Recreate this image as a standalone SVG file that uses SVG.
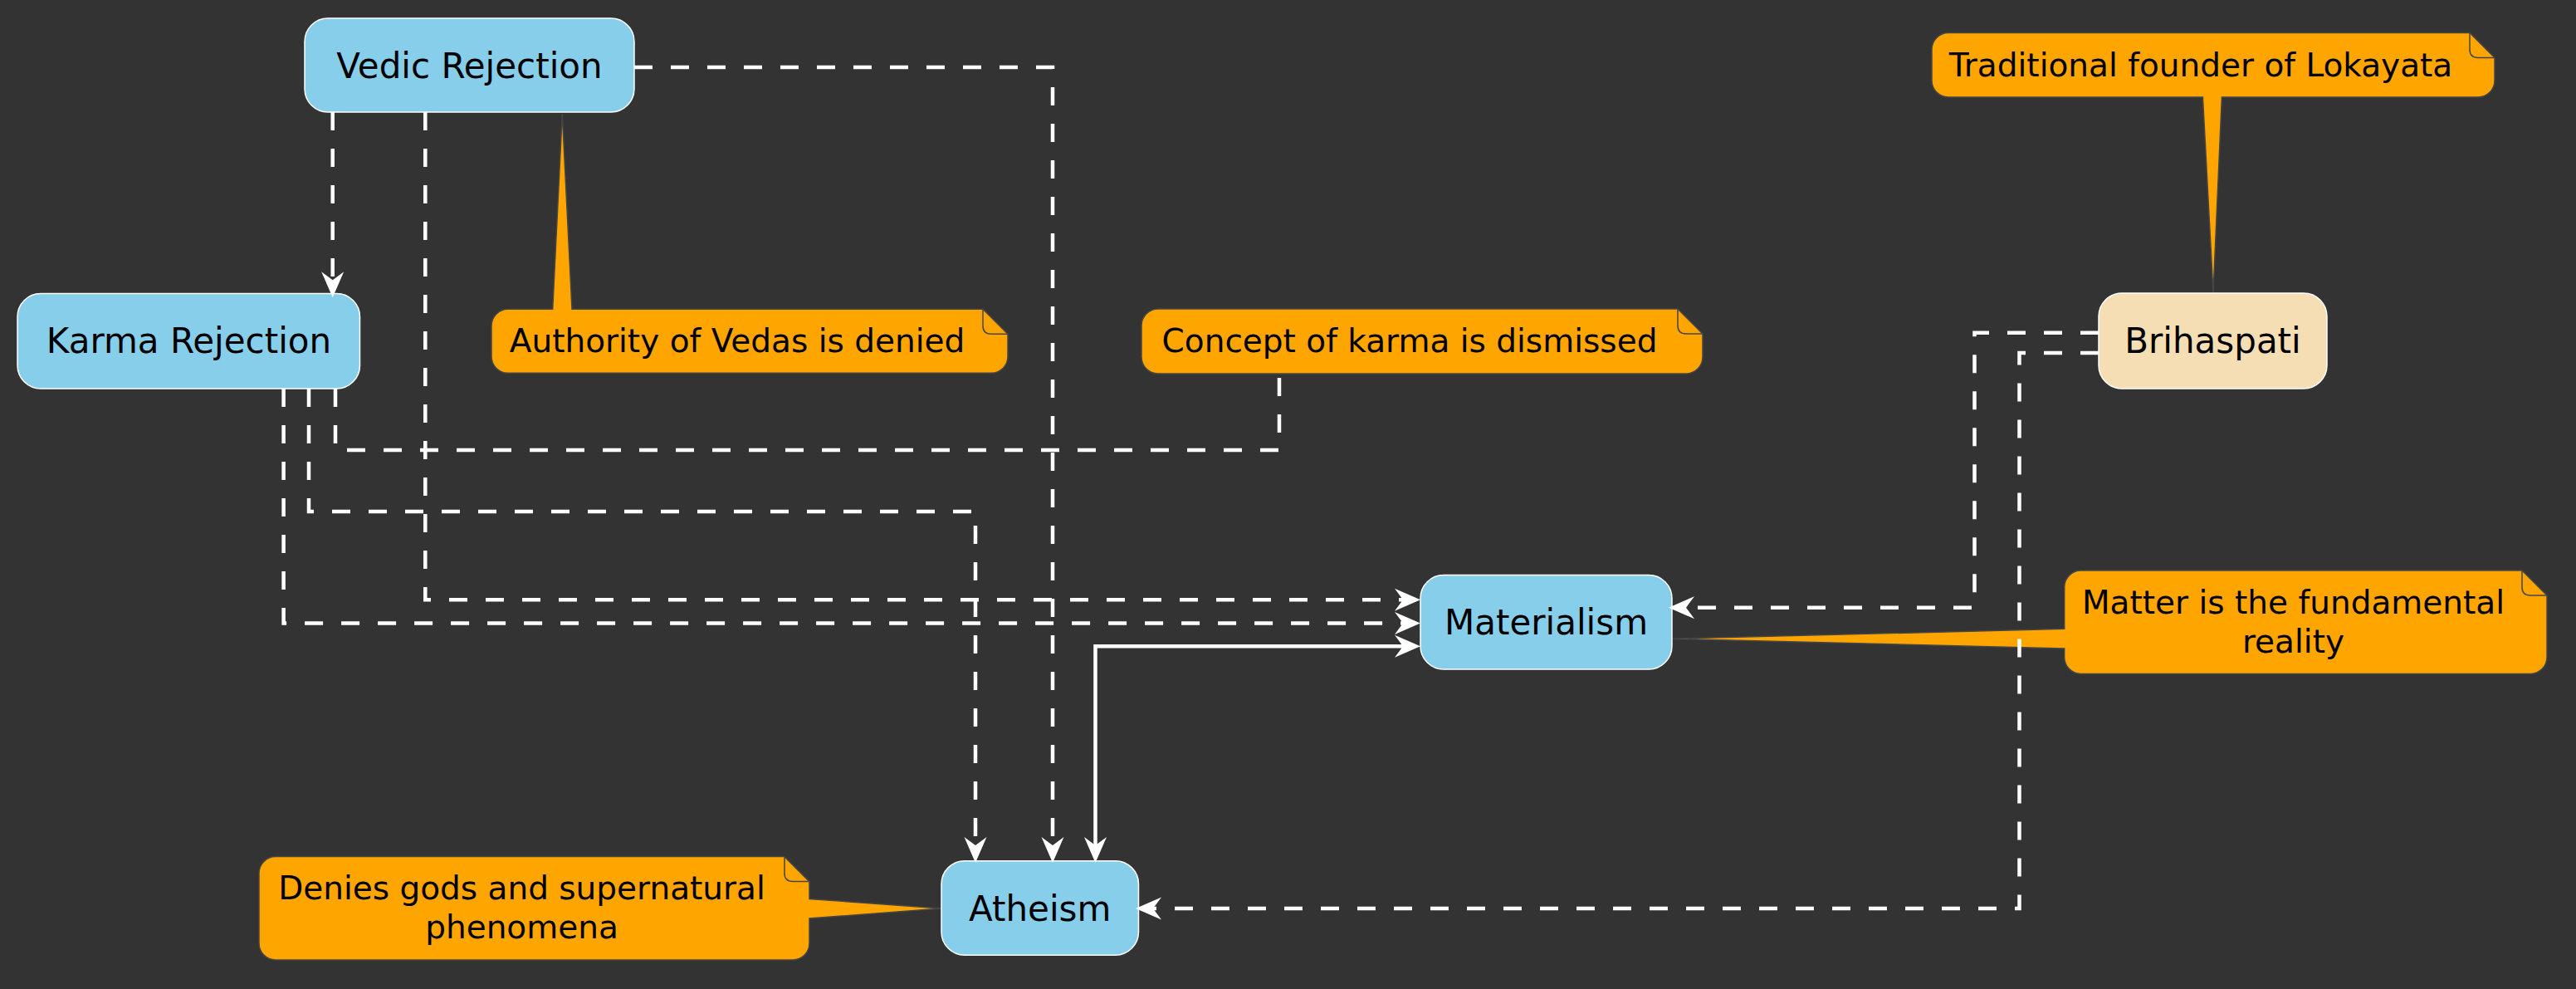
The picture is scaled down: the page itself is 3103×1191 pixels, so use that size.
<svg xmlns="http://www.w3.org/2000/svg" width="3103" height="1191" viewBox="0 0 3103 1191">
<style>
.node{fill:#87CEEB;stroke:#FFFFFF;stroke-width:1.5}
.wheat{fill:#F5DEB3}
.ntext{font-family:"DejaVu Sans",Verdana,sans-serif;font-size:42px;fill:#000000;text-anchor:middle}
.note{fill:#FFA500;stroke:#454545;stroke-width:1.5}
.fold{fill:none;stroke:#454545;stroke-width:1.5}
.ttext{font-family:"DejaVu Sans",Verdana,sans-serif;font-size:39px;fill:#000000;text-anchor:middle}
.dash{fill:none;stroke:#FFFFFF;stroke-width:4.5;stroke-dasharray:22 22}
.solid{fill:none;stroke:#FFFFFF;stroke-width:4.5}
</style>
<defs>
<marker id="arr" viewBox="-33 -15 35 30" markerWidth="35" markerHeight="30" refX="-12" refY="0" orient="auto-start-reverse" markerUnits="userSpaceOnUse">
<path d="M0,0 L-31,-13.5 L-21,0 L-31,13.5 Z" fill="#FFFFFF"/>
</marker>
</defs>
<rect width="3103" height="1191" fill="#333333"/>

<g id="notes">
<g id="note-authority">
<path class="note" d="M612,372.3 H665.7 L677.3,137 L689,372.3 H1184 L1214,402.3 V429.3 A20,20 0 0 1 1194,449.3 H612 A20,20 0 0 1 592,429.3 V392.3 A20,20 0 0 1 612,372.3 Z"/>
<path class="fold" d="M1184,372.3 V392.3 Q1184,402.3 1194,402.3 H1214"/>
<text class="ttext" x="888" y="423.5">Authority of Vedas is denied</text>
</g>
<g id="note-concept">
<path class="note" d="M1395,372 H2021 L2051,402 V430 A20,20 0 0 1 2031,450 H1395 A20,20 0 0 1 1375,430 V392 A20,20 0 0 1 1395,372 Z"/>
<path class="fold" d="M2021,372 V392 Q2021,402 2031,402 H2051"/>
<text class="ttext" x="1698" y="423.5">Concept of karma is dismissed</text>
</g>
<g id="note-traditional">
<path class="note" d="M2347,39.5 H2975 L3005,69.5 V97 A20,20 0 0 1 2985,117 H2676.4 L2666,353 L2653.4,117 H2347 A20,20 0 0 1 2327,97 V59.5 A20,20 0 0 1 2347,39.5 Z"/>
<path class="fold" d="M2975,39.5 V59.5 Q2975,69.5 2985,69.5 H3005"/>
<text class="ttext" x="2651" y="91.5">Traditional founder of Lokayata</text>
</g>
<g id="note-matter">
<path class="note" d="M2506.7,687 H3038 L3068,717 V791.5 A20,20 0 0 1 3048,811.5 H2506.7 A20,20 0 0 1 2486.7,791.5 V781 L2014,769.3 L2486.7,757.3 V707 A20,20 0 0 1 2506.7,687 Z"/>
<path class="fold" d="M3038,687 V707 Q3038,717 3048,717 H3068"/>
<text class="ttext" x="2762.5" y="739">Matter is the fundamental</text>
<text class="ttext" x="2762.5" y="785.5">reality</text>
</g>
<g id="note-denies">
<path class="note" d="M332,1031.6 H945 L975,1061.6 V1082.5 L1134,1094 L975,1106 V1136 A20,20 0 0 1 955,1156 H332 A20,20 0 0 1 312,1136 V1051.6 A20,20 0 0 1 332,1031.6 Z"/>
<path class="fold" d="M945,1031.6 V1051.6 Q945,1061.6 955,1061.6 H975"/>
<text class="ttext" x="628.5" y="1083">Denies gods and supernatural</text>
<text class="ttext" x="628.5" y="1129.5">phenomena</text>
</g>
</g>

<g id="vedic-rejection">
<rect class="node" x="367" y="22" width="397" height="113" rx="28" ry="28"/>
<text class="ntext" x="565.5" y="93.5">Vedic Rejection</text>
</g>
<g id="karma-rejection">
<rect class="node" x="21" y="353.5" width="412.5" height="114.5" rx="28" ry="28"/>
<text class="ntext" x="227.5" y="425">Karma Rejection</text>
</g>
<g id="brihaspati">
<rect class="node wheat" x="2528" y="353" width="275" height="115" rx="28" ry="28"/>
<text class="ntext" x="2665.5" y="425">Brihaspati</text>
</g>
<g id="materialism">
<rect class="node" x="1711" y="692.5" width="303" height="113.5" rx="28" ry="28"/>
<text class="ntext" x="1862.5" y="764">Materialism</text>
</g>
<g id="atheism">
<rect class="node" x="1134" y="1036.7" width="237.5" height="113.5" rx="28" ry="28"/>
<text class="ntext" x="1252.7" y="1109">Atheism</text>
</g>

<g id="connectors">
<path class="dash" d="M400.7,135 V346.3" marker-end="url(#arr)"/>
<path class="dash" d="M512.3,135 V722.3 H1699" marker-end="url(#arr)"/>
<path class="dash" d="M764,81 H1268 V1027" marker-end="url(#arr)"/>
<path class="dash" d="M341.6,468 V750.5 H1699" marker-end="url(#arr)"/>
<path class="dash" d="M372,468 V616 H1175 V1027" marker-end="url(#arr)"/>
<path class="dash" d="M404,468 V542 H1541 V450"/>
<path class="dash" d="M2528,400.7 H2378.5 V731.7 H2022" marker-end="url(#arr)"/>
<path class="dash" d="M2528,425 H2432.5 V1094 H1380" marker-end="url(#arr)"/>
<path class="solid" d="M1319.5,1027 V778.3 H1699" marker-start="url(#arr)" marker-end="url(#arr)"/>
</g>
</svg>
